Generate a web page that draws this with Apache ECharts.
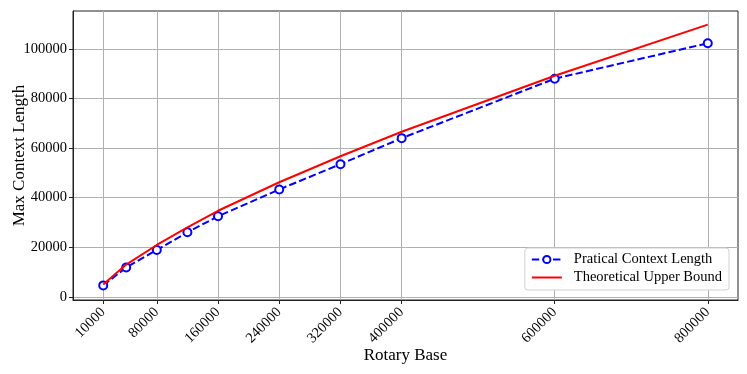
<!DOCTYPE html>
<html>
<head>
<meta charset="utf-8">
<script src="https://cdn.jsdelivr.net/npm/echarts@6/dist/echarts.min.js"></script>
<style>
  html, body { margin: 0; padding: 0; background: #fff; }
  #chart { width: 747px; height: 374px; }
</style>
</head>
<body>
<div id="chart"></div>
<script>
const rotaryBase = [10000, 40000, 80000, 120000, 160000, 240000, 320000, 400000, 600000, 800000];
const practical = [4600, 11800, 18900, 26000, 32500, 43300, 53500, 64000, 88000, 102300];
const theoretical = [5000, 13000, 20900, 28000, 34700, 46200, 56700, 66600, 89200, 109800];
const xTicks = [10000, 80000, 160000, 240000, 320000, 400000, 600000, 800000];
const yTicks = [0, 20000, 40000, 60000, 80000, 100000];

const font = "'Liberation Serif', 'DejaVu Serif', serif";
const chart = echarts.init(document.getElementById("chart"));

chart.setOption({
  animation: false,
  textStyle: { fontFamily: font },
  grid: {
    left: 73, right: 9, top: 11, bottom: 74,
    containLabel: false,
    outerBoundsMode: "none",
    show: true, borderColor: "#222", borderWidth: 1
  },
  legend: {
    orient: "vertical",
    right: 18,
    bottom: 84,
    itemWidth: 30,
    itemHeight: 9,
    itemGap: 3,
    padding: [4, 7, 5, 6],
    backgroundColor: "#fff",
    borderColor: "#d0d0d0",
    borderWidth: 1,
    borderRadius: 3,
    textStyle: { fontFamily: font, fontSize: 14.5, color: "#000", padding: [0, 0, 0, 7] },
    data: [
      { name: "Pratical Context Length" },
      { name: "Theoretical Upper Bound", icon: "path://M0,6 L30,6 L30,8 L0,8 Z" }
    ]
  },
  xAxis: {
    type: "value",
    min: -29500,
    max: 839500,
    name: "Rotary Base",
    nameLocation: "middle",
    nameGap: 47,
    nameMoveOverlap: false,
    nameTextStyle: { fontFamily: font, fontSize: 17, color: "#000" },
    axisLine: { onZero: false, lineStyle: { color: "#222" } },
    axisTick: { show: true, customValues: xTicks, length: 4, lineStyle: { color: "#222" } },
    axisLabel: {
      customValues: xTicks,
      rotate: 45,
      formatter: v => String(v),
      fontFamily: font, fontSize: 14.5, color: "#000",
      margin: 10
    },
    splitLine: { show: true, lineStyle: { color: "#b0b0b0", width: 1 } }
  },
  yAxis: {
    type: "value",
    min: -1300,
    max: 115300,
    name: "Max Context Length",
    nameLocation: "middle",
    nameGap: 45,
    nameMoveOverlap: false,
    nameTextStyle: { fontFamily: font, fontSize: 17, color: "#000" },
    axisLine: { show: true, onZero: false, lineStyle: { color: "#222" } },
    axisTick: { show: true, customValues: yTicks, length: 4, lineStyle: { color: "#222" } },
    axisLabel: {
      customValues: yTicks,
      formatter: v => String(v),
      fontFamily: font, fontSize: 14.5, color: "#000",
      margin: 6
    },
    splitLine: { show: true, lineStyle: { color: "#b0b0b0", width: 1 } }
  },
  series: [
    {
      name: "Pratical Context Length",
      type: "line",
      data: rotaryBase.map((x, i) => [x, practical[i]]),
      symbol: "circle",
      symbolSize: 8,
      itemStyle: { color: "#fff", borderColor: "#0000ff", borderWidth: 2 },
      lineStyle: { color: "#0000ff", width: 2, type: [7.4, 3.2] },
      z: 2
    },
    {
      name: "Theoretical Upper Bound",
      type: "line",
      data: rotaryBase.map((x, i) => [x, theoretical[i]]),
      showSymbol: false,
      symbol: "none",
      itemStyle: { color: "#ff0000" },
      lineStyle: { color: "#ff0000", width: 2 },
      z: 3
    }
  ]
});
</script>
</body>
</html>
